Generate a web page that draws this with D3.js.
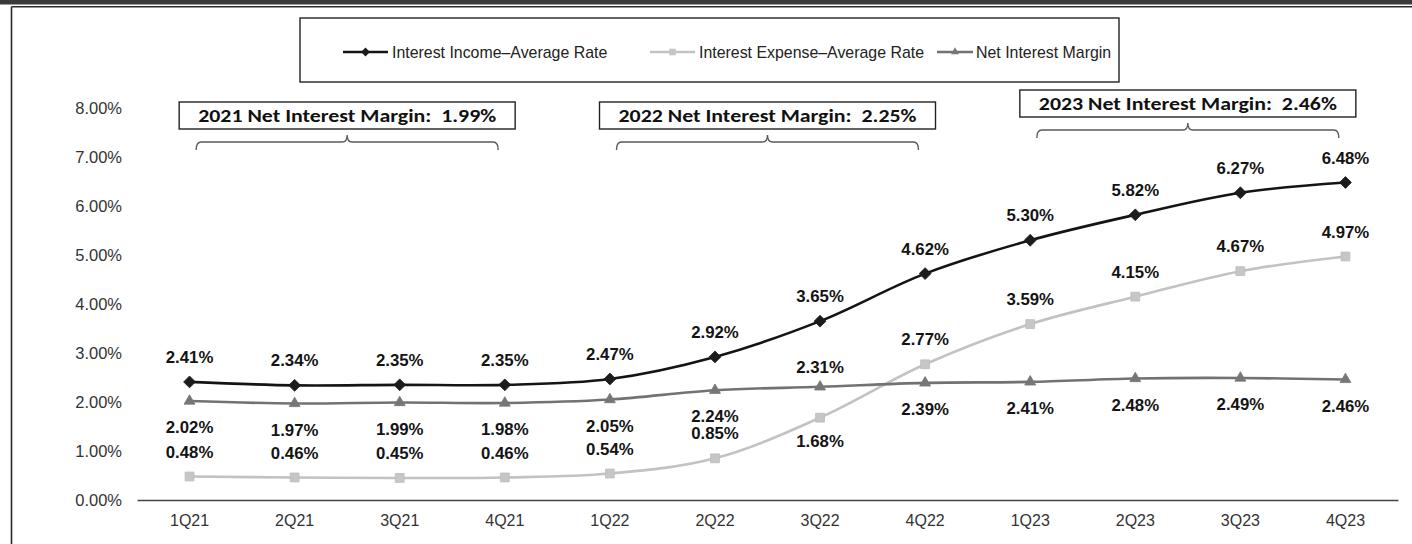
<!DOCTYPE html>
<html>
<head>
<meta charset="utf-8">
<script src="https://cdn.jsdelivr.net/npm/d3@7"></script>
<style>
  html, body { margin: 0; padding: 0; background: #fff; }
  svg { display: block; }
</style>
</head>
<body>
<svg id="chart" width="1412" height="544"></svg>
<script>
// ---- data ----
const categories = ["1Q21","2Q21","3Q21","4Q21","1Q22","2Q22","3Q22","4Q22","1Q23","2Q23","3Q23","4Q23"];
const incomeRate  = [2.41, 2.34, 2.35, 2.35, 2.47, 2.92, 3.65, 4.62, 5.30, 5.82, 6.27, 6.48];
const expenseRate = [0.48, 0.46, 0.45, 0.46, 0.54, 0.85, 1.68, 2.77, 3.59, 4.15, 4.67, 4.97];
const nimRate     = [2.02, 1.97, 1.99, 1.98, 2.05, 2.24, 2.31, 2.39, 2.41, 2.48, 2.49, 2.46];
const expenseLabelSide = ["above","above","above","above","above","above","below","above","above","above","above","above"];
const nimLabelSide     = ["below","below","below","below","below","below","above","below","below","below","below","below"];
const yTicks = [0, 1, 2, 3, 4, 5, 6, 7, 8];
const seriesNames = ["Interest Income\u2013Average Rate", "Interest Expense\u2013Average Rate", "Net Interest Margin"];
const yearGroups = [
  { text: "2021 Net Interest Margin:  1.99%", first: "1Q21", last: "4Q21" },
  { text: "2022 Net Interest Margin:  2.25%", first: "1Q22", last: "4Q22" },
  { text: "2023 Net Interest Margin:  2.46%", first: "1Q23", last: "4Q23" }
];

// ---- setup ----
const svg = d3.select("#chart");
const W = 1412, H = 544;
const axisFont = "'Liberation Sans', Arial, Helvetica, sans-serif";

// frame
svg.append("rect").attr("x", 0).attr("y", 0).attr("width", W).attr("height", 4.5).attr("fill", "#3a3a3a");
svg.append("line").attr("x1", 11.5).attr("x2", W).attr("y1", 6.8).attr("y2", 6.8).attr("stroke", "#2a2a2a").attr("stroke-width", 1.4);
svg.append("line").attr("x1", 11.5).attr("x2", 11.5).attr("y1", 6.8).attr("y2", H).attr("stroke", "#2a2a2a").attr("stroke-width", 1.6);

const x = d3.scaleBand().domain(categories).range([137, 1398]).padding(0);
const cx = c => x(c) + x.bandwidth() / 2;
const y = d3.scaleLinear().domain([0, 8]).range([500, 108]);

// y axis (labels only)
const yAxis = svg.append("g").attr("transform", "translate(137,0)")
  .call(d3.axisLeft(y).tickValues(yTicks).tickSize(0).tickPadding(15).tickFormat(d => d.toFixed(2) + "%"));
yAxis.select(".domain").remove();
yAxis.selectAll("text").attr("font-family", axisFont).attr("font-size", 16.5).attr("fill", "#333");

// x axis
const xAxis = svg.append("g").attr("transform", "translate(0,500)")
  .call(d3.axisBottom(x).tickSize(0).tickSizeOuter(0).tickPadding(15));
xAxis.select(".domain").attr("stroke", "#444").attr("stroke-width", 1.5);
xAxis.selectAll("text").attr("font-family", axisFont).attr("font-size", 16).attr("fill", "#333");

// ---- series ----
const series = [
  { name: seriesNames[0], values: incomeRate,  line: "#141414", fill: "#1c1c1c", marker: d3.symbolDiamond2, size: 90 },
  { name: seriesNames[1], values: expenseRate, line: "#c2c2c2", fill: "#c6c6c6", marker: d3.symbolSquare2, size: 100 },
  { name: seriesNames[2], values: nimRate,     line: "#727272", fill: "#767676", marker: d3.symbolTriangle2, size: 85 }
];

const lineGen = d3.line().x((d, i) => cx(categories[i])).y(d => y(d)).curve(d3.curveCatmullRom.alpha(0.5));

[1, 2, 0].forEach(si => {
  const s = series[si];
  svg.append("path").attr("d", lineGen(s.values)).attr("fill", "none")
    .attr("stroke", s.line).attr("stroke-width", 2.6);
  svg.append("g").selectAll("path").data(s.values).join("path")
    .attr("transform", (d, i) => `translate(${cx(categories[i])},${y(d)})`)
    .attr("d", d3.symbol().type(s.marker).size(s.size)())
    .attr("fill", s.fill)
    .attr("stroke", si === 1 ? "#bdbdbd" : s.fill).attr("stroke-width", 0.8);
});

// ---- data labels ----
const labelFont = "'Liberation Sans', Arial, Helvetica, sans-serif";
function addLabels(values, offsetFn) {
  svg.append("g").selectAll("text").data(values).join("text")
    .attr("x", (d, i) => cx(categories[i]))
    .attr("y", (d, i) => y(d) + offsetFn(d, i))
    .attr("dy", "0.36em")
    .attr("text-anchor", "middle")
    .attr("font-family", labelFont).attr("font-weight", "bold").attr("font-size", 16.8)
    .attr("fill", "#141414")
    .text(d => d.toFixed(2) + "%");
}
addLabels(incomeRate, () => -25);
addLabels(expenseRate, (d, i) => expenseLabelSide[i] === "below" ? 23 : -25);
addLabels(nimRate, (d, i) => nimLabelSide[i] === "above" ? -20 : 26);

// ---- legend ----
svg.append("rect").attr("x", 300).attr("y", 18).attr("width", 819).attr("height", 64)
  .attr("fill", "#fff").attr("stroke", "#222").attr("stroke-width", 1.4);
const legendItems = [
  { s: series[0], x0: 343, x1: 388, tx: 392 },
  { s: series[1], x0: 650, x1: 695, tx: 699 },
  { s: series[2], x0: 937, x1: 973, tx: 976 }
];
legendItems.forEach(li => {
  const ly = 52;
  svg.append("line").attr("x1", li.x0).attr("x2", li.x1).attr("y1", ly).attr("y2", ly)
    .attr("stroke", li.s.line).attr("stroke-width", 2.6);
  svg.append("path").attr("transform", `translate(${(li.x0 + li.x1) / 2},${ly})`)
    .attr("d", d3.symbol().type(li.s.marker).size(li.s.size * 0.55)())
    .attr("fill", li.s.fill);
  svg.append("text").attr("x", li.tx).attr("y", ly).attr("dy", "0.36em")
    .attr("font-family", axisFont).attr("font-size", 15.9).attr("fill", "#222")
    .text(li.s.name);
});

// ---- year annotations ----
const annFont = "Carlito, Calibri, Lato, 'Open Sans', sans-serif";
yearGroups.forEach((g, gi) => {
  const mid = (cx(g.first) + cx(g.last)) / 2;
  const boxTop = gi === 2 ? 90 : 102;
  const boxH = 27, boxW = 336;
  svg.append("rect").attr("x", mid - boxW / 2).attr("y", boxTop).attr("width", boxW).attr("height", boxH)
    .attr("fill", "#fff").attr("stroke", "#222").attr("stroke-width", 1.4);
  svg.append("text").attr("x", mid).attr("y", boxTop + boxH / 2 + 6.5)
    .attr("text-anchor", "middle")
    .attr("font-family", annFont).attr("font-weight", "bold").attr("font-size", 18.5)
    .attr("fill", "#111")
    .attr("xml:space", "preserve")
    .style("white-space", "pre")
    .attr("textLength", 298).attr("lengthAdjust", "spacingAndGlyphs")
    .text(g.text);
  const bot = boxTop + boxH;
  const yl = bot + 13, yt = bot + 6, ye = bot + 21;
  const hw = 151, r = 5;
  const x0 = mid - hw, x1 = mid + hw;
  const p = d3.path();
  p.moveTo(x0, ye);
  p.quadraticCurveTo(x0, yl, x0 + r, yl);
  p.lineTo(mid - r, yl);
  p.quadraticCurveTo(mid, yl, mid, yt);
  p.quadraticCurveTo(mid, yl, mid + r, yl);
  p.lineTo(x1 - r, yl);
  p.quadraticCurveTo(x1, yl, x1, ye);
  svg.append("path").attr("d", p.toString()).attr("fill", "none")
    .attr("stroke", "#5a5a5a").attr("stroke-width", 1.4);
});
</script>
</body>
</html>
